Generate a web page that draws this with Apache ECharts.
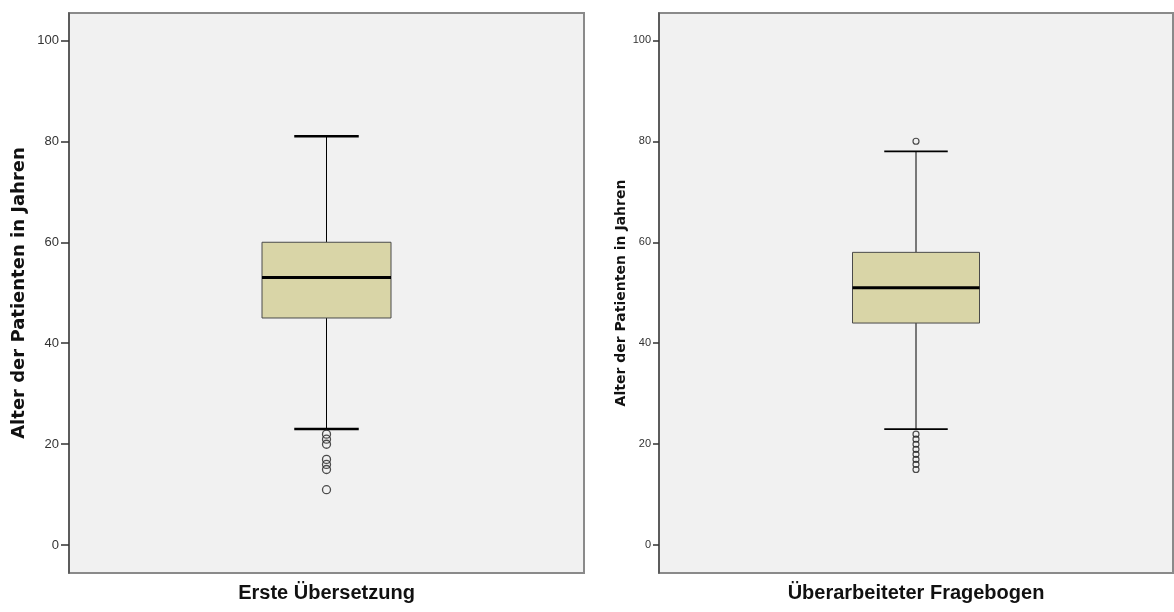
<!DOCTYPE html>
<html>
<head>
<meta charset="utf-8">
<script src="https://cdn.jsdelivr.net/npm/echarts@6/dist/echarts.min.js"></script>
<style>
  html, body { margin: 0; padding: 0; background: #ffffff; }
  #chart { width: 1174px; height: 612px; }
</style>
</head>
<body>
<div id="chart"></div>
<script>
// Altersverteilung der Patienten in beiden Fragebogen-Versionen
const categoriesA = ['Erste Übersetzung'];
const categoriesB = ['Überarbeiteter Fragebogen'];
// [unterer Whisker, Q1, Median, Q3, oberer Whisker]
const boxA = [23, 45, 53, 60, 81];
const boxB = [23, 44, 51, 58, 78];
const outliersA = [22, 21, 20, 17, 16, 15, 11];
const outliersB = [80, 22, 21, 20, 19, 18, 17, 16, 15];
const yTicks = [0, 20, 40, 60, 80, 100];
const yName = 'Alter der Patienten in Jahren';

const FONT = 'Liberation Sans, Arial, Helvetica, sans-serif';
const NAME_FONT = 'DejaVu Sans, Verdana, sans-serif';

function boxRenderer(boxPx, capW, medW) {
  return function (params, api) {
    const c = api.value(0);
    const x = api.coord([c, 0])[0];
    const y = i => api.coord([c, api.value(i)])[1];
    const yLo = y(1), yQ1 = y(2), yMed = y(3), yQ3 = y(4), yHi = y(5);
    const half = boxPx / 2, capHalf = boxPx / 4;
    const line = (x1, y1, x2, y2, w) => ({
      type: 'line',
      shape: { x1, y1, x2, y2 },
      style: { stroke: '#000', lineWidth: w }
    });
    return {
      type: 'group',
      children: [
        line(x, yLo, x, yQ1, 1),
        line(x, yQ3, x, yHi, 1),
        line(x - capHalf, yLo, x + capHalf, yLo, capW),
        line(x - capHalf, yHi, x + capHalf, yHi, capW),
        {
          type: 'rect',
          shape: { x: x - half, y: yQ3, width: boxPx, height: yQ1 - yQ3 },
          style: { fill: '#d9d5a7', stroke: '#4a4a4a', lineWidth: 1 }
        },
        line(x - half, yMed, x + half, yMed, medW)
      ]
    };
  };
}

function yAxisFor(idx, labelSize, nameSize, nameGap, margin, tickLen) {
  return {
    type: 'value',
    gridIndex: idx,
    min: -5.5,
    max: 105.4,
    axisLine: { show: true, lineStyle: { color: '#4d4d4d', width: 1.5 } },
    axisTick: { show: true, customValues: yTicks, length: tickLen, lineStyle: { color: '#333', width: 1.5 } },
    axisLabel: { customValues: yTicks, fontSize: labelSize, color: '#333', margin: margin, fontFamily: FONT },
    splitLine: { show: false },
    name: yName,
    nameLocation: 'middle',
    nameGap: nameGap,
    nameTextStyle: { fontSize: nameSize, fontWeight: 'bold', color: '#111', fontFamily: NAME_FONT }
  };
}

function xAxisFor(idx, cats) {
  return {
    type: 'category',
    gridIndex: idx,
    data: cats,
    axisLine: { show: false },
    axisTick: { show: false },
    axisLabel: { fontSize: 20, fontWeight: 'bold', color: '#111', margin: 10, fontFamily: FONT },
    splitLine: { show: false }
  };
}

const chart = echarts.init(document.getElementById('chart'), null, { renderer: 'canvas' });
chart.setOption({
  backgroundColor: '#ffffff',
  animation: false,
  grid: [
    { left: 69, top: 13, width: 515, height: 560, show: true, backgroundColor: '#f1f1f1', borderColor: '#8a8a8a', borderWidth: 2 },
    { left: 659, top: 13, width: 514, height: 560, show: true, backgroundColor: '#f1f1f1', borderColor: '#8a8a8a', borderWidth: 2 }
  ],
  xAxis: [xAxisFor(0, categoriesA), xAxisFor(1, categoriesB)],
  yAxis: [
    yAxisFor(0, 13, 18, 41, 10, 8),
    yAxisFor(1, 11, 14, 31, 8, 6)
  ],
  series: [
    {
      type: 'custom',
      xAxisIndex: 0, yAxisIndex: 0,
      renderItem: boxRenderer(129, 2.5, 3),
      encode: { x: 0, y: [1, 2, 3, 4, 5] },
      data: [[0].concat(boxA)]
    },
    {
      type: 'scatter',
      xAxisIndex: 0, yAxisIndex: 0,
      symbol: 'circle',
      symbolSize: 8,
      itemStyle: { color: 'rgba(0,0,0,0)', borderColor: '#222', borderWidth: 1.3 },
      data: outliersA.map(v => [0, v])
    },
    {
      type: 'custom',
      xAxisIndex: 1, yAxisIndex: 1,
      renderItem: boxRenderer(127, 1.8, 3),
      encode: { x: 0, y: [1, 2, 3, 4, 5] },
      data: [[0].concat(boxB)]
    },
    {
      type: 'scatter',
      xAxisIndex: 1, yAxisIndex: 1,
      symbol: 'circle',
      symbolSize: 6,
      itemStyle: { color: 'rgba(0,0,0,0)', borderColor: '#222', borderWidth: 1.2 },
      data: outliersB.map(v => [0, v])
    }
  ]
});
</script>
</body>
</html>
